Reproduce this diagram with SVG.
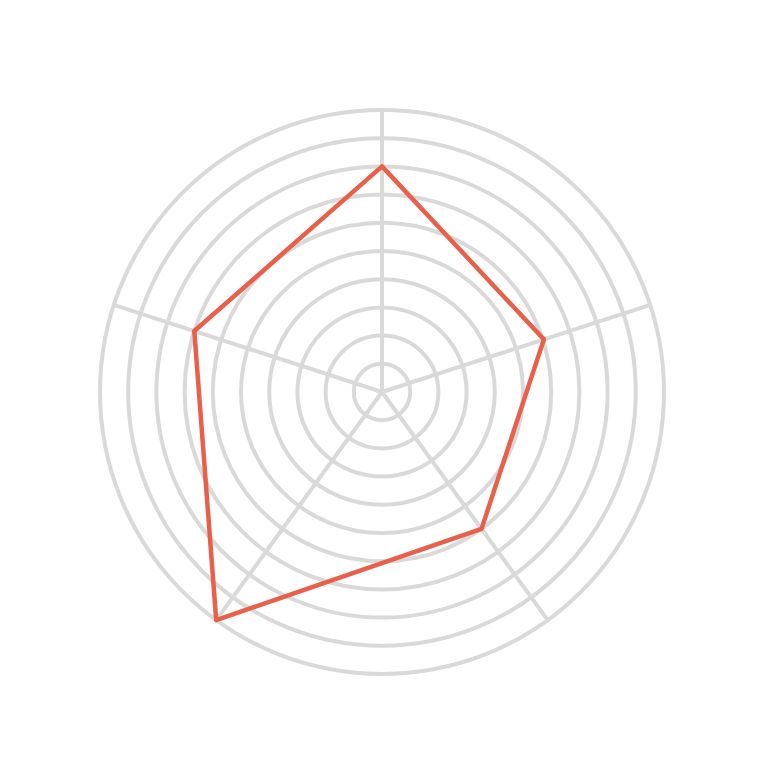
<svg xmlns="http://www.w3.org/2000/svg" width="771" height="769" viewBox="0 0 771 769">
<style>
.g{fill:none;stroke:#d9d9d9;stroke-width:4}
.d{fill:none;stroke:#e8604a;stroke-width:4.5;stroke-linejoin:round}
</style>
<rect width="771" height="769" fill="#fff"/>
<g id="grid">
<circle class="g" cx="382" cy="392" r="28.2"/>
<circle class="g" cx="382" cy="392" r="56.4"/>
<circle class="g" cx="382" cy="392" r="84.6"/>
<circle class="g" cx="382" cy="392" r="112.8"/>
<circle class="g" cx="382" cy="392" r="141"/>
<circle class="g" cx="382" cy="392" r="169.2"/>
<circle class="g" cx="382" cy="392" r="197.4"/>
<circle class="g" cx="382" cy="392" r="225.6"/>
<circle class="g" cx="382" cy="392" r="253.8"/>
<circle class="g" cx="382" cy="392" r="282"/>
</g>
<g id="spokes">
<line class="g" x1="382" y1="392" x2="382" y2="110"/>
<line class="g" x1="382" y1="392" x2="650.2" y2="304.9"/>
<line class="g" x1="382" y1="392" x2="547.8" y2="620.1"/>
<line class="g" x1="382" y1="392" x2="216.2" y2="620.1"/>
<line class="g" x1="382" y1="392" x2="113.8" y2="304.9"/>
</g>
<g id="series">
<polygon class="d" points="382,166.4 543.9,339.4 481.5,528.9 216.2,620.1 194.3,331"/>
</g>
</svg>
